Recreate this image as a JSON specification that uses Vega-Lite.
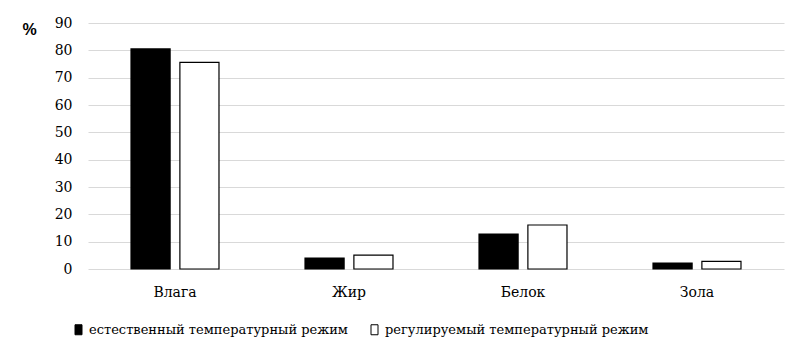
{
  "$schema": "https://vega.github.io/schema/vega-lite/v6.json",
  "width": 696,
  "height": 246,
  "autosize": {"type": "none"},
  "padding": {"left": 88, "top": 23, "right": 21, "bottom": 93},
  "background": "white",
  "data": {
    "values": [
      {"cat": "Влага", "mode": "естественный температурный режим", "value": 80.5},
      {"cat": "Влага", "mode": "регулируемый температурный режим", "value": 75.6},
      {"cat": "Жир", "mode": "естественный температурный режим", "value": 4.0},
      {"cat": "Жир", "mode": "регулируемый температурный режим", "value": 5.1},
      {"cat": "Белок", "mode": "естественный температурный режим", "value": 12.8},
      {"cat": "Белок", "mode": "регулируемый температурный режим", "value": 16.1},
      {"cat": "Зола", "mode": "естественный температурный режим", "value": 2.2},
      {"cat": "Зола", "mode": "регулируемый температурный режим", "value": 2.8}
    ]
  },
  "mark": {"type": "bar", "stroke": "black", "strokeWidth": 1.2},
  "encoding": {
    "x": {
      "field": "cat",
      "type": "nominal",
      "sort": ["Влага", "Жир", "Белок", "Зола"],
      "scale": {"paddingInner": 0, "paddingOuter": 0},
      "axis": {
        "title": null,
        "domain": false,
        "ticks": false,
        "labelAngle": 0,
        "labelPadding": 16
      }
    },
    "xOffset": {
      "field": "mode",
      "type": "nominal",
      "scale": {"paddingInner": 0.2, "paddingOuter": 0.88}
    },
    "y": {
      "field": "value",
      "type": "quantitative",
      "scale": {"domain": [0, 90], "nice": false},
      "axis": {
        "values": [0, 10, 20, 30, 40, 50, 60, 70, 80, 90],
        "domain": false,
        "ticks": false,
        "grid": true,
        "gridColor": "#d9d9d9",
        "gridWidth": 1,
        "labelPadding": 16,
        "title": "%",
        "titleAngle": 0,
        "titleX": -66,
        "titleY": 6,
        "titleAlign": "left",
        "titleBaseline": "middle",
        "titleFont": "Liberation Sans",
        "titleFontSize": 16,
        "titleFontWeight": "bold",
        "titleColor": "black"
      }
    },
    "fill": {
      "field": "mode",
      "type": "nominal",
      "scale": {"range": ["black", "white"]},
      "legend": {
        "title": null,
        "orient": "none",
        "direction": "horizontal",
        "legendX": -16,
        "legendY": 300,
        "symbolType": "M-0.7,-1H0.7V1H-0.7Z",
        "symbolSize": 100,
        "symbolStrokeColor": "black",
        "symbolStrokeWidth": 1,
        "labelOffset": 4,
        "columnPadding": 20,
        "labelLimit": 400
      }
    }
  },
  "config": {
    "view": {"stroke": null},
    "axis": {"labelFont": "DejaVu Serif", "labelFontSize": 14, "labelColor": "black"},
    "legend": {"labelFont": "DejaVu Serif", "labelFontSize": 13, "labelColor": "black"}
  }
}
